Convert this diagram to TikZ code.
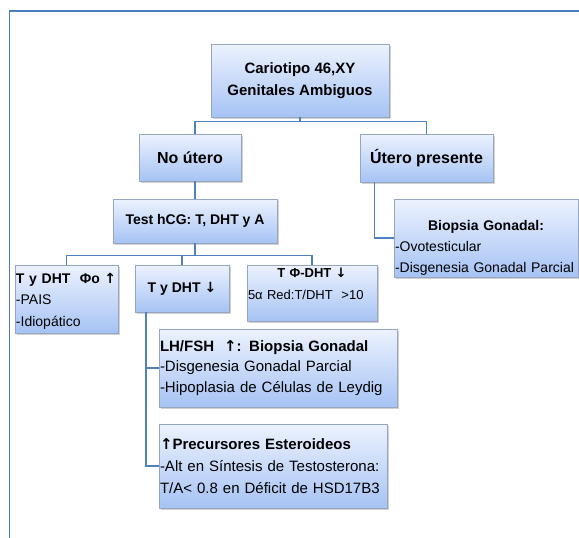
\documentclass[tikz,border=0pt]{standalone}
\usepackage{fontspec}
\setmainfont{Liberation Sans}
\newfontfamily\arrowfont{DejaVu Sans}
\usetikzlibrary{shadows, calc}

\definecolor{boxtop}{RGB}{236,242,254}
\definecolor{boxbot}{RGB}{166,195,244}
\definecolor{boxline}{RGB}{150,166,192}
\definecolor{connblue}{RGB}{79,129,189}
\definecolor{frameblue}{RGB}{74,126,187}

\newcommand{\uparr}{{\arrowfont\bfseries ↑}}
\newcommand{\downarr}{{\arrowfont\bfseries ↓}}

\begin{document}
\begin{tikzpicture}[x=1pt, y=-1pt,
  diagbox/.style={draw=boxline, line width=0.6pt, top color=boxtop, bottom color=boxbot,
    drop shadow={shadow xshift=1.8pt, shadow yshift=-1.8pt, opacity=0.3, fill=black!60},
    inner xsep=1pt, inner ysep=2pt},
  levelone/.style={font=\fontsize{16}{20}\selectfont\bfseries},
  listbox/.style={align=left, font=\fontsize{14}{21}\selectfont},
  conn/.style={draw=connblue, line width=1.1pt}]
  \useasboundingbox (0,0) rectangle (579,538);
  \draw[frameblue, line width=1.5pt] (579,11) -- (9.5,11) -- (9.5,538);
  % top and first level
  \node[diagbox, minimum width=178pt, minimum height=73pt, align=center, font=\fontsize{15}{22}\selectfont\bfseries] (cario) at (300,80.5) {Cariotipo 46,XY\\Genitales Ambiguos};
  \node[diagbox, levelone, minimum width=102pt, minimum height=47pt] (noutero) at (190,157.5) {No útero};
  \node[diagbox, levelone, minimum width=133pt, minimum height=48pt] (utero) at (426.5,158) {Útero presente};
  \node[diagbox, minimum width=164pt, minimum height=44pt, font=\fontsize{14}{18}\selectfont\bfseries] (testhcg) at (195,221) {Test hCG: T, DHT y A};
  \node[diagbox, listbox, minimum width=184pt, minimum height=78pt, text width=182pt] (biopsia) at (486,238) {\rule{0pt}{29pt}\makebox[182pt]{\textbf{Biopsia Gonadal:}}\\-Ovotesticular\\-Disgenesia Gonadal Parcial};
  % hCG results
  \node[diagbox, listbox, minimum width=103pt, minimum height=68pt, text width=101pt, font=\fontsize{14}{21.5}\selectfont] (tdhtphi) at (66.5,299) {\rule{0pt}{14pt}\mbox{\textbf{T y DHT\ \ Φo \uparr}}\\-PAIS\\-Idiopático};
  \node[diagbox, minimum width=94pt, minimum height=47pt, font=\fontsize{14}{18}\selectfont\bfseries] (tdhtdown) at (182,288.5) {T y DHT \downarr};
  \node[diagbox, listbox, minimum width=130pt, minimum height=56pt, text width=128pt, font=\fontsize{13}{22}\selectfont] (tphidht) at (312,293) {\makebox[128pt]{\textbf{T Φ-DHT \downarr}}\\\mbox{5α Red:T/DHT\ \ >10}\rule[-18pt]{0pt}{0pt}};
  \node[diagbox, listbox, minimum width=238pt, minimum height=78pt, text width=236pt, font=\fontsize{15}{20.5}\selectfont] (lhfsh) at (278,368) {\mbox{\textbf{LH/FSH\ \ \uparr: Biopsia Gonadal}}\\-Disgenesia Gonadal Parcial\\-Hipoplasia de Células de Leydig};
  \node[diagbox, listbox, minimum width=228pt, minimum height=84pt, text width=226pt, font=\fontsize{15}{22}\selectfont] (precursores) at (273,466) {\mbox{\textbf{\uparr Precursores Esteroideos}}\\-Alt en Síntesis de Testosterona:\\T/A< 0.8 en Déficit de HSD17B3};
  % connectors
  \draw[conn] (cario.south) -- ++(0,4) -| (noutero.north -| testhcg.north);
  \draw[conn] (cario.south) -- ++(0,4) -| (utero.north);
  \draw[conn] (noutero.south -| testhcg.north) -- (testhcg.north);
  \draw[conn] ([xshift=-52pt]utero.south) |- (biopsia.west);
  \draw[conn] (testhcg.south) -- ++(0,12) -| (tdhtphi.north);
  \draw[conn] (testhcg.south) -- ++(0,12) -| (tdhtdown.north);
  \draw[conn] (testhcg.south) -- ++(0,12) -| (tphidht.north);
  \draw[conn] ([xshift=-36pt]tdhtdown.south) |- (lhfsh.west);
  \draw[conn] ([xshift=-36pt]tdhtdown.south) |- (precursores.west);
\end{tikzpicture}
\end{document}
